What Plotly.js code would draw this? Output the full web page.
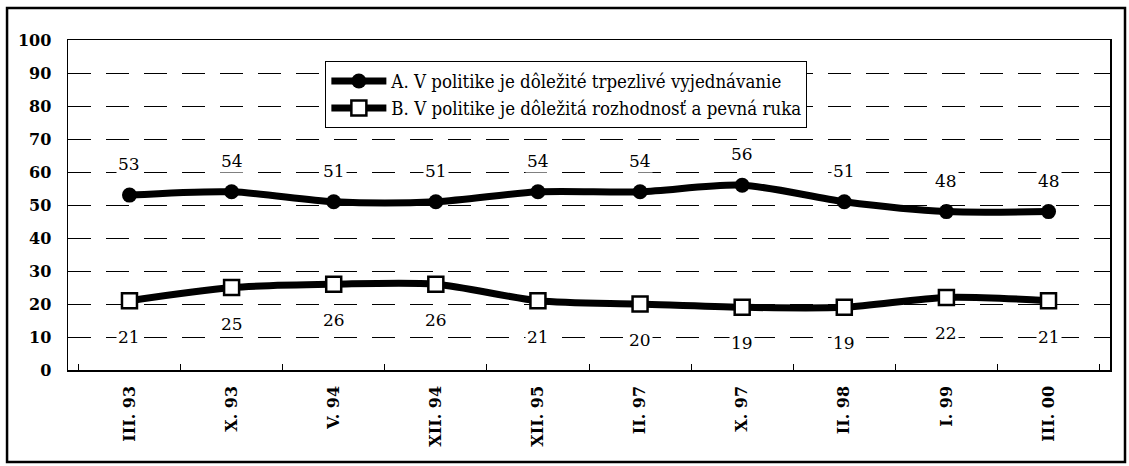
<!DOCTYPE html>
<html>
<head>
<meta charset="utf-8">
<script src="https://cdn.plot.ly/plotly-3.0.1.min.js"></script>
<style>html,body{margin:0;padding:0;background:#fff;}#chart{width:1129px;height:466px;}</style>
</head>
<body>
<div id="chart"></div>
<script>
const categories = ["III. 93","X. 93","V. 94","XII. 94","XII. 95","II. 97","X. 97","II. 98","I. 99","III. 00"];
const seriesA = [53,54,51,51,54,54,56,51,48,48];
const seriesB = [21,25,26,26,21,20,19,19,22,21];
const nameA = "A. V politike je dôležité trpezlivé vyjednávanie";
const nameB = "B. V politike je dôležitá rozhodnosť a pevná ruka";
const yTicks = [0,10,20,30,40,50,60,70,80,90,100];

const serifC = "DejaVu Serif Condensed";
const serif = "DejaVu Serif";

const traces = [
  {
    x: categories, y: seriesA, name: nameA, type: "scatter", mode: "lines+markers",
    line: {color: "#000", width: 7, shape: "spline", smoothing: 0.8},
    marker: {symbol: "circle", size: 15, color: "#000"}
  },
  {
    x: categories, y: seriesB, name: nameB, type: "scatter", mode: "lines+markers",
    line: {color: "#000", width: 7, shape: "spline", smoothing: 0.8},
    marker: {symbol: "square", size: 15, color: "#fff", line: {color: "#000", width: 2.5}}
  }
];

const annotations = [];
categories.forEach((c, i) => {
  annotations.push({x: c, y: seriesA[i], text: String(seriesA[i]), showarrow: false, yshift: 31,
    font: {family: serif, size: 17, color: "#000"}, bgcolor: "#fff", borderpad: 1});
  annotations.push({x: c, y: seriesB[i], text: String(seriesB[i]), showarrow: false, yshift: -36,
    font: {family: serif, size: 17, color: "#000"}, bgcolor: "#fff", borderpad: 1});
});

const layout = {
  width: 1129, height: 466,
  margin: {l: 68, r: 19, t: 40, b: 96},
  paper_bgcolor: "#fff", plot_bgcolor: "#fff",
  showlegend: true,
  legend: {
    x: 0.247, y: 0.935, xanchor: "left", yanchor: "top",
    bgcolor: "#fff", bordercolor: "#000", borderwidth: 1,
    font: {family: serifC, size: 18.5, color: "#000"},
    itemwidth: 55, tracegroupgap: 0
  },
  xaxis: {
    type: "category", showgrid: false, showline: true, linecolor: "#000", linewidth: 1.5, mirror: true,
    ticks: "inside", tickson: "boundaries", ticklen: 6, tickcolor: "#000",
    tickangle: -90, ticklabelstandoff: 8, tickfont: {family: serif, size: 16, color: "#000", weight: "bold"},
    fixedrange: true
  },
  yaxis: {
    range: [0, 100], tickvals: yTicks, ticktext: yTicks.map(String),
    showgrid: true, gridcolor: "#000", gridwidth: 1, griddash: "23px,15px",
    showline: true, linecolor: "#000", linewidth: 1.5, mirror: true,
    ticks: "", ticklabelstandoff: 12, tickfont: {family: serif, size: 16, color: "#000", weight: "bold"},
    zeroline: false, fixedrange: true
  },
  annotations: annotations,
  shapes: [
    {type: "rect", xref: "paper", yref: "paper", x0: -0.0585, x1: 1.0144, y0: -0.279, y1: 1.097,
     line: {color: "#000", width: 2.5}, layer: "below"}
  ]
};

Plotly.newPlot("chart", traces, layout, {displayModeBar: false, staticPlot: true});
</script>
</body>
</html>
